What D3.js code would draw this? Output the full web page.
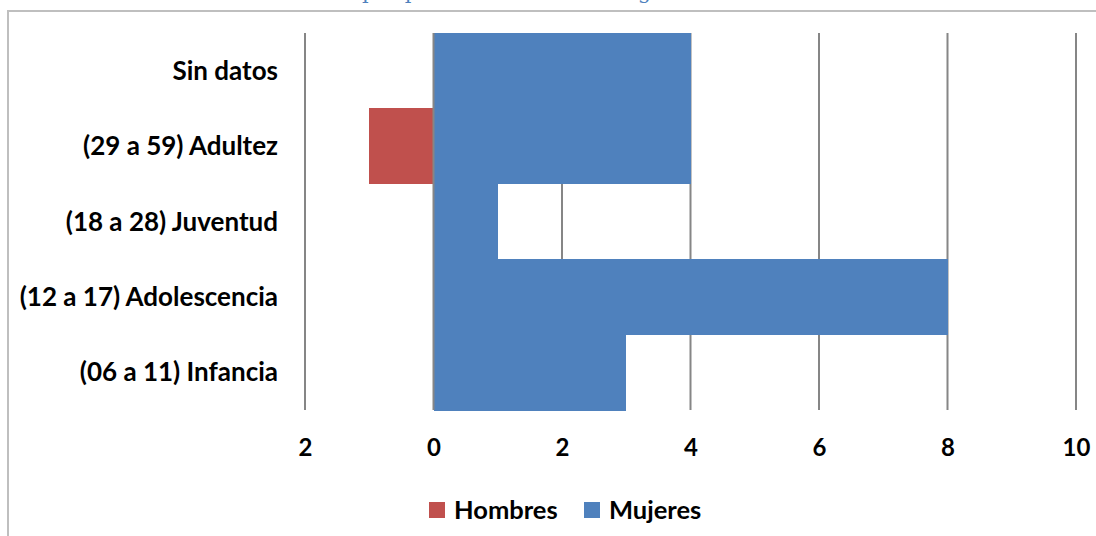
<!DOCTYPE html>
<html><head><meta charset="utf-8">
<script src="https://cdn.jsdelivr.net/npm/d3@7"></script>
<style>body{margin:0;background:#fff;} svg{display:block;}</style>
</head><body>
<svg id="c" width="1096" height="536"></svg>
<script>
const categories = ["Sin datos", "(29 a 59) Adultez", "(18 a 28) Juventud", "(12 a 17) Adolescencia", "(06 a 11) Infancia"];
const hombres = [0, -1, 0, 0, 0];
const mujeres = [4, 4, 1, 8, 3];
const seriesNames = ["Hombres", "Mujeres"];
const seriesColors = ["#c0504d", "#4f81bd"];
const tickValues = [-2, 0, 2, 4, 6, 8, 10];
const titleText = "Víctimas por población atendida según edad";

const svg = d3.select("#c");
const font = "Lato, 'Open Sans', sans-serif";

// chart area border
svg.append("rect").attr("x", 8).attr("y", 11).attr("width", 1100).attr("height", 600)
  .attr("fill", "#fff").attr("stroke", "#bfbfbf").attr("stroke-width", 2);

// title, cut off by the top edge (only descenders visible)
svg.append("text").attr("x", 500).attr("y", -1).attr("text-anchor", "middle")
  .attr("font-family", "'DejaVu Serif', 'Liberation Serif', serif").attr("font-size", 21)
  .attr("fill", "#4f81bd").text(titleText);

const x = d3.scaleLinear().domain([-2, 10]).range([305, 1076]);
const y = d3.scaleBand().domain(categories).range([33, 410]).padding(0);

// gridlines
svg.append("g").selectAll("line").data(tickValues.filter(v => v !== 0)).join("line")
  .attr("x1", d => x(d)).attr("x2", d => x(d)).attr("y1", y.range()[0]).attr("y2", y.range()[1])
  .attr("stroke", "#868686").attr("stroke-width", 2);

// bars
const rows = categories.map((c, i) => ({c, h: hombres[i], m: mujeres[i]}));
svg.append("g").attr("shape-rendering", "crispEdges").selectAll("rect").data(rows).join("rect")
  .attr("x", d => x(Math.min(0, d.h))).attr("width", d => Math.abs(x(d.h) - x(0)))
  .attr("y", d => y(d.c)).attr("height", y.bandwidth() + 0.5).attr("fill", seriesColors[0]);
svg.append("g").attr("shape-rendering", "crispEdges").selectAll("rect").data(rows).join("rect")
  .attr("x", d => x(0)).attr("width", d => x(d.m) - x(0))
  .attr("y", d => y(d.c)).attr("height", y.bandwidth() + 0.5).attr("fill", seriesColors[1]);

// zero axis line
svg.append("line").attr("x1", x(0)).attr("x2", x(0)).attr("y1", y.range()[0]).attr("y2", y.range()[1])
  .attr("stroke", "#868686").attr("stroke-width", 2);

// x axis labels
const xAxis = d3.axisBottom(x).tickValues(tickValues).tickSize(0).tickPadding(0)
  .tickFormat(d => d3.format("d")(Math.abs(d)));
const gx = svg.append("g").attr("transform", `translate(0,${y.range()[1]})`).call(xAxis);
gx.select(".domain").remove();
gx.selectAll("text").attr("font-family", font).attr("font-weight", "bold").attr("font-size", 24)
  .attr("fill", "#000").attr("dy", null).attr("y", 46);

// y axis labels
const yAxis = d3.axisLeft(y).tickSize(0).tickPadding(0);
const gy = svg.append("g").attr("transform", "translate(278,0)").call(yAxis);
gy.select(".domain").remove();
gy.selectAll("text").attr("font-family", font).attr("font-weight", "bold").attr("font-size", 26)
  .attr("fill", "#000").attr("dy", "0.35em").attr("x", 0);

// legend
const legendX = [429, 584];
const lg = svg.append("g").selectAll("g").data(seriesNames).join("g")
  .attr("transform", (d, i) => `translate(${legendX[i]},502)`);
lg.append("rect").attr("width", 16).attr("height", 16).attr("fill", (d, i) => seriesColors[i]);
lg.append("text").attr("x", 25).attr("y", 8).attr("dy", "0.36em")
  .attr("font-family", font).attr("font-weight", "bold").attr("font-size", 25.5).attr("fill", "#000")
  .text(d => d);
</script>
</body></html>
